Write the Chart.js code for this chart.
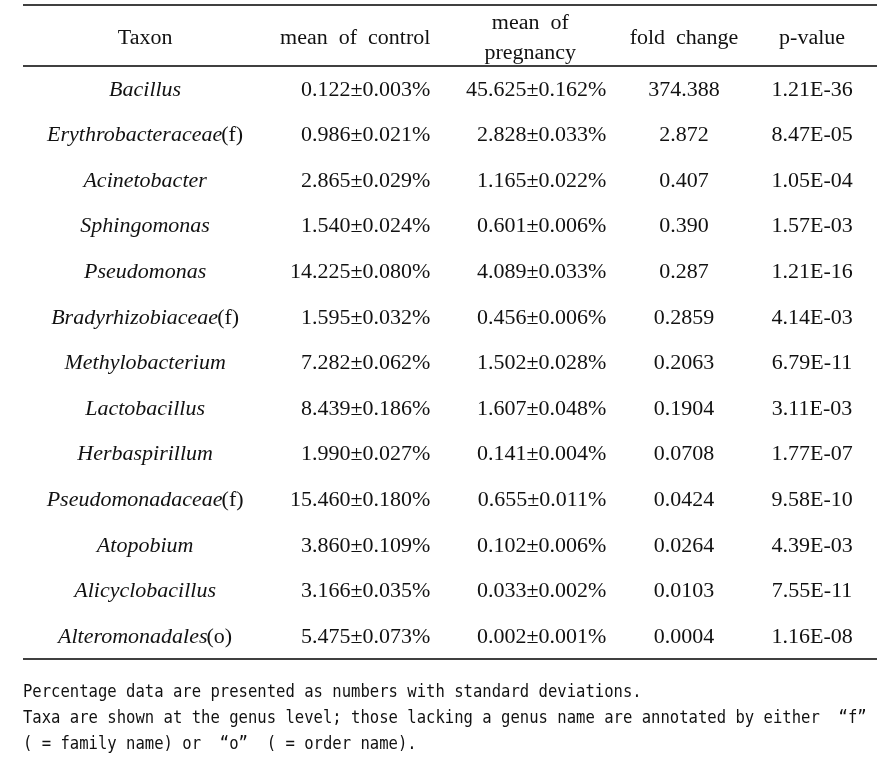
<!DOCTYPE html>
<html>
<head>
<meta charset="utf-8">
<script src="https://cdn.jsdelivr.net/npm/chart.js@4.4.1/dist/chart.umd.min.js"></script>
<style>
  html, body { margin: 0; padding: 0; background: #fff; }
  canvas { display: block; }
</style>
</head>
<body>
<canvas id="taxaTable" width="893" height="760"></canvas>
<script>
// table data
const taxa = ["Bacillus", "Erythrobacteraceae", "Acinetobacter", "Sphingomonas", "Pseudomonas",
  "Bradyrhizobiaceae", "Methylobacterium", "Lactobacillus", "Herbaspirillum", "Pseudomonadaceae",
  "Atopobium", "Alicyclobacillus", "Alteromonadales"];
const rankTags = ["", "f", "", "", "", "f", "", "", "", "f", "", "", "o"];
const controlMean = [0.122, 0.986, 2.865, 1.540, 14.225, 1.595, 7.282, 8.439, 1.990, 15.460, 3.860, 3.166, 5.475];
const controlSd = [0.003, 0.021, 0.029, 0.024, 0.080, 0.032, 0.062, 0.186, 0.027, 0.180, 0.109, 0.035, 0.073];
const pregnancyMean = [45.625, 2.828, 1.165, 0.601, 4.089, 0.456, 1.502, 1.607, 0.141, 0.655, 0.102, 0.033, 0.002];
const pregnancySd = [0.162, 0.033, 0.022, 0.006, 0.033, 0.006, 0.028, 0.048, 0.004, 0.011, 0.006, 0.002, 0.001];
const foldChange = ["374.388", "2.872", "0.407", "0.390", "0.287", "0.2859", "0.2063", "0.1904",
  "0.0708", "0.0424", "0.0264", "0.0103", "0.0004"];
const pValues = [1.21e-36, 8.47e-5, 1.05e-4, 1.57e-3, 1.21e-16, 4.14e-3, 6.79e-11, 3.11e-3,
  1.77e-7, 9.58e-10, 4.39e-3, 7.55e-11, 1.16e-8];
const headers = [["Taxon"], ["mean  of  control"], ["mean  of", "pregnancy"], ["fold  change"], ["p-value"]];
const footnotes = [
  "Percentage data are presented as numbers with standard deviations.",
  "Taxa are shown at the genus level; those lacking a genus name are annotated by either  \u201cf\u201d",
  "( = family name) or  \u201co\u201d  ( = order name)."
];

// layout: column anchors in % of table width
const cellAnchor = [14.3, 47.7, 68.3, 77.4, 92.4];
const cellAlign = ["center", "right", "right", "center", "center"];
const headAnchor = [14.3, 38.9, 59.4, 77.4, 92.4];
const serif = "20px 'Liberation Serif', serif";
const serifItalic = "italic 20px 'Liberation Serif', serif";
const stretch = 1.1; // wider glyphs, closer to the original Batang face
const ink = "#111";

const pm = (m, s) => m.toFixed(3) + "\u00b1" + s.toFixed(3) + "%";
const sci = v => {
  const [m, e] = v.toExponential(2).split("e");
  const n = Math.abs(+e);
  return m + "E" + (+e < 0 ? "-" : "+") + String(n).padStart(2, "0");
};

const columnText = [
  taxa,
  controlMean.map((m, i) => pm(m, controlSd[i])),
  pregnancyMean.map((m, i) => pm(m, pregnancySd[i])),
  foldChange,
  pValues.map(sci)
];

const datasets = columnText.map((texts, c) => ({
  label: headers[c].join(" "),
  data: taxa.map(t => ({ x: cellAnchor[c], y: t })),
  texts: texts,
  align: cellAlign[c],
  pointRadius: 0,
  pointHoverRadius: 0
}));

function hline(ctx, x1, x2, y) {
  ctx.beginPath();
  ctx.moveTo(x1, y);
  ctx.lineTo(x2, y);
  ctx.stroke();
}

function text(ctx, str, x, y, align, font, sx) {
  ctx.save();
  ctx.font = font;
  ctx.textAlign = align;
  ctx.translate(x, y);
  ctx.scale(sx, 1);
  ctx.fillText(str, 0, 0);
  ctx.restore();
}

const tablePlugin = {
  id: "tablePlugin",
  afterDatasetsDraw(chart) {
    const { ctx, chartArea: a, scales } = chart;
    ctx.save();
    ctx.fillStyle = ink;
    ctx.textBaseline = "middle";
    const dy = 1.5; // optical nudge of the serif text

    chart.data.datasets.forEach((ds, di) => {
      chart.getDatasetMeta(di).data.forEach((pt, i) => {
        const y = pt.y + dy;
        if (di === 0) {
          // italic taxon name + upright rank tag
          const name = ds.texts[i];
          const tag = rankTags[i] ? "(" + rankTags[i] + ")" : "";
          ctx.font = serifItalic;
          const w1 = ctx.measureText(name).width * stretch;
          ctx.font = serif;
          const w2 = tag ? ctx.measureText(tag).width * stretch - 1 : 0;
          const x0 = pt.x - (w1 + w2) / 2;
          text(ctx, name, x0, y, "left", serifItalic, stretch);
          if (tag) text(ctx, tag, x0 + w1 - 1, y, "left", serif, stretch);
        } else {
          text(ctx, ds.texts[i], pt.x, y, ds.align, serif, stretch);
        }
      });
    });

    // header
    const headY = a.top - 29 + dy;
    headers.forEach((lines, c) => {
      const x = scales.x.getPixelForValue(headAnchor[c]);
      lines.forEach((ln, k) => {
        const y = headY + (k - (lines.length - 1) / 2) * 30;
        text(ctx, ln, x, y, "center", serif, stretch);
      });
    });

    // rules
    ctx.strokeStyle = "#000";
    ctx.lineWidth = 1.5;
    hline(ctx, a.left, a.right, a.top - 61);
    hline(ctx, a.left, a.right, a.top);
    hline(ctx, a.left, a.right, a.bottom);

    // footnotes
    footnotes.forEach((ln, k) => {
      text(ctx, ln, a.left, a.bottom + 33 + k * 26, "left", "18px 'DejaVu Sans Mono', monospace", 0.865);
    });
    ctx.restore();
  }
};

new Chart(document.getElementById("taxaTable"), {
  type: "scatter",
  data: { datasets: datasets },
  options: {
    responsive: false,
    animation: false,
    events: [],
    layout: { padding: { top: 66, bottom: 101, left: 23, right: 16 } },
    scales: {
      x: { type: "linear", min: 0, max: 100, display: false },
      y: { type: "category", labels: taxa, offset: true, display: false }
    },
    plugins: {
      legend: { display: false },
      tooltip: { enabled: false }
    }
  },
  plugins: [tablePlugin]
});
</script>
</body>
</html>
